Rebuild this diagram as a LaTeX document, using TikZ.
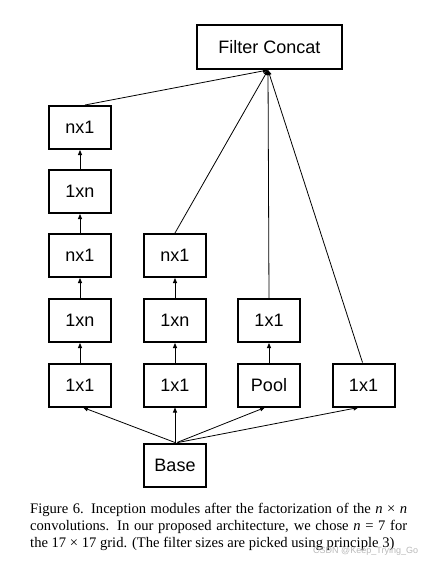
\documentclass[tikz,border=0pt]{standalone}
\usepackage{fontspec}
\setmainfont{Liberation Serif}
\newfontfamily\boxfont{Liberation Sans}
\usetikzlibrary{arrows.meta}
\tikzset{
  blk/.style={draw, line width=2pt, minimum width=62pt, minimum height=43pt, inner sep=0pt,
    font=\boxfont\fontsize{18}{20}\selectfont},
  conn/.style={line width=0.8pt, -{Triangle[length=5pt,width=4pt]}},
}
\begin{document}
\begin{tikzpicture}[x=1pt,y=-1pt]
\useasboundingbox (0,0) rectangle (434,565);
\node[blk, minimum width=145pt, minimum height=44pt] (cc) at (269.5,47) {Filter Concat};
% column 1
\node[blk] (a1) at (80,127.5) {nx1};
\node[blk] (a2) at (80,191.5) {1xn};
\node[blk] (a3) at (80,255.5) {nx1};
\node[blk] (a4) at (80,320.5) {1xn};
\node[blk] (a5) at (80,385) {1x1};
% column 2
\node[blk] (b3) at (175,255.5) {nx1};
\node[blk] (b4) at (175,320.5) {1xn};
\node[blk] (b5) at (175,385) {1x1};
% column 3
\node[blk] (c4) at (269,320.5) {1x1};
\node[blk] (c5) at (269,385) {Pool};
% column 4
\node[blk] (d5) at (363.5,385) {1x1};
% base
\node[blk] (base) at (175,465) {Base};
\coordinate (tip) at ([xshift=-1.5pt]cc.south);
% vertical chains
\draw[conn] (a5) -- (a4);
\draw[conn] (a4) -- (a3);
\draw[conn] (a3) -- (a2);
\draw[conn] (a2) -- (a1);
\draw[conn] (b5) -- (b4);
\draw[conn] (b4) -- (b3);
\draw[conn] (c5) -- (c4);
% to concat
\draw[conn] ([xshift=5pt]a1.north) -- (tip);
\draw[conn] (b3.north) -- (tip);
\draw[conn] (c4.north) -- (tip);
\draw[conn] ([xshift=-1pt]d5.north) -- (tip);
% from base
\draw[conn] (base.north) -- ([xshift=3pt]a5.south);
\draw[conn] (base.north) -- (b5.south);
\draw[conn] ([xshift=2pt]base.north) -- ([xshift=-4pt]c5.south);
\draw[conn] ([xshift=3pt]base.north) -- ([xshift=-5pt]d5.south);
% caption
\node[anchor=north west, inner sep=0pt, text width=377pt, align=justify,
  font=\fontsize{14.6}{17}\selectfont] (cap) at (30,503)
  {Figure 6. Inception modules after the factorization of the \textit{n} × \textit{n}\linebreak
   convolutions. In our proposed architecture, we chose \textit{n} = 7 for\linebreak
   the 17 × 17 grid. (The filter sizes are picked using principle 3)};
\node[anchor=west, inner sep=0pt, text=gray!55, font=\boxfont\fontsize{9}{10}\selectfont] (wm) at (313,551) {CSDN @Keep\_Trying\_Go};
\end{tikzpicture}
\end{document}
